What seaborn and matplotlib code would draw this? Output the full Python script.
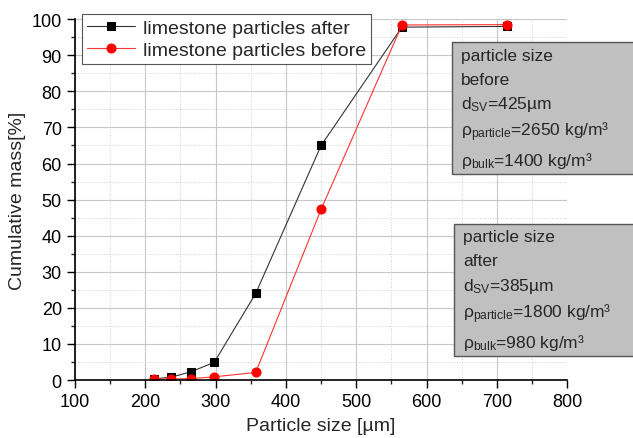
import matplotlib
matplotlib.use("Agg")
import matplotlib.pyplot as plt
import seaborn as sns
import pandas as pd
from matplotlib.patches import Rectangle
from matplotlib.ticker import MultipleLocator

size_after = [212, 237, 265, 298, 357, 450, 565, 714]
mass_after = [0.3, 0.8, 2.3, 4.9, 24.0, 65.0, 97.8, 98.0]
size_before = [212, 237, 265, 298, 357, 450, 565, 714]
mass_before = [0.2, 0.3, 0.4, 0.9, 2.1, 47.3, 98.4, 98.5]

box_before = ["particle size", "before", r"d$_{\mathrm{SV}}$=425µm",
              r"ρ$_{\mathrm{particle}}$=2650 kg/m³", r"ρ$_{\mathrm{bulk}}$=1400 kg/m³"]
box_after = ["particle size", "after", r"d$_{\mathrm{SV}}$=385µm",
             r"ρ$_{\mathrm{particle}}$=1800 kg/m³", r"ρ$_{\mathrm{bulk}}$=980 kg/m³"]

sns.set_style("white")
plt.rcParams['font.family'] = ['Liberation Sans', 'DejaVu Sans']
plt.rcParams['mathtext.fontset'] = 'custom'
plt.rcParams['mathtext.rm'] = 'Liberation Sans'
plt.rcParams['mathtext.it'] = 'Liberation Sans:italic'

df_after = pd.DataFrame({"size": size_after, "mass": mass_after})
df_before = pd.DataFrame({"size": size_before, "mass": mass_before})

fig = plt.figure(figsize=(6.33, 4.39), dpi=100)
ax = fig.add_axes([0.1185, 0.132, 0.7775, 0.822])

sns.lineplot(data=df_after, x="size", y="mass", ax=ax, color="#333333", lw=0.8,
             marker="s", markersize=5.5, markerfacecolor="black", markeredgecolor="black",
             label="limestone particles after")
sns.lineplot(data=df_before, x="size", y="mass", ax=ax, color="#ff3333", lw=0.8,
             marker="o", markersize=6.5, markerfacecolor="red", markeredgecolor="red",
             label="limestone particles before")

ax.set_xlim(100, 800)
ax.set_ylim(0, 100)
ax.xaxis.set_major_locator(MultipleLocator(100))
ax.xaxis.set_minor_locator(MultipleLocator(50))
ax.yaxis.set_major_locator(MultipleLocator(10))
ax.yaxis.set_minor_locator(MultipleLocator(5))
ax.grid(which="major", color="#c8c8c8", lw=0.8, ls="-")
ax.grid(which="minor", color="#d0d0d0", lw=0.7, ls=":")
ax.set_axisbelow(True)
for s in ["top", "right"]:
    ax.spines[s].set_visible(False)
for s in ["left", "bottom"]:
    ax.spines[s].set_color("black")
    ax.spines[s].set_linewidth(1.2)
ax.tick_params(which="major", direction="out", length=6, width=1, labelsize=13,
               left=True, bottom=True, colors="black")
ax.tick_params(which="minor", direction="out", length=3, width=1, left=True, bottom=True)
ax.set_xlabel("Particle size [µm]", fontsize=14, labelpad=5)
ax.set_ylabel("Cumulative mass[%]", fontsize=14)

leg = ax.legend(loc="upper left", bbox_to_anchor=(0.014, 1.014), borderaxespad=0,
                fontsize=14, fancybox=False, framealpha=1, edgecolor="#555555",
                borderpad=0.25, handlelength=2.5, handletextpad=0.4, labelspacing=0.25)
leg.get_frame().set_linewidth(0.8)


def draw_box(x0, y0, y1, x_text, lines, ys):
    r = Rectangle((x0, y0), 400, y1 - y0, facecolor="#c0c0c0", edgecolor="#555555",
                  lw=1, clip_on=False, zorder=5)
    ax.add_patch(r)
    for t, y in zip(lines, ys):
        ax.text(x_text, y, t, fontsize=12.5, va="center", ha="left", zorder=6, clip_on=False)


draw_box(636, 57, 93.6, 649, box_before, [90, 83.4, 76.7, 69, 61])
draw_box(639, 6.6, 43.2, 652, box_after, [39.9, 33, 26.3, 18.6, 10.5])

fig.savefig("out.png", dpi=100)
